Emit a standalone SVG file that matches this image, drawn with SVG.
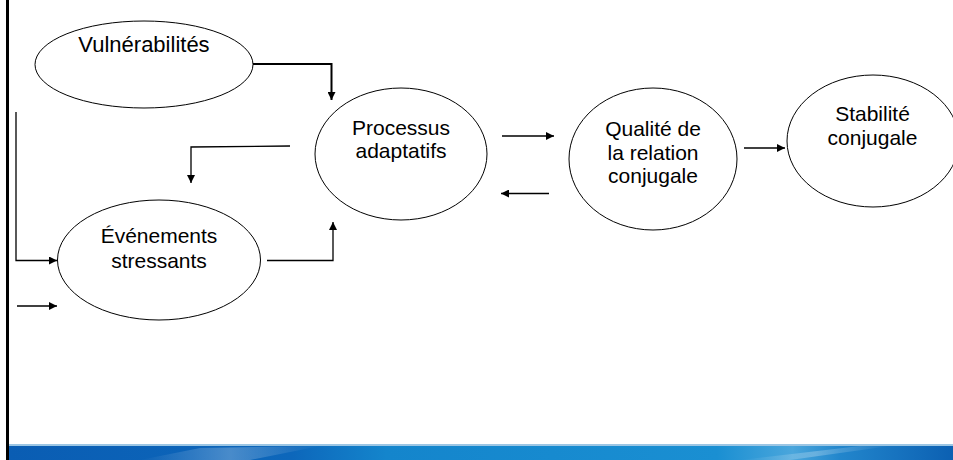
<svg xmlns="http://www.w3.org/2000/svg" width="953" height="460" viewBox="0 0 953 460">
<defs>
<marker id="ah" markerUnits="userSpaceOnUse" markerWidth="9" markerHeight="8" refX="8" refY="4" orient="auto">
<path d="M0,0 L8,4 L0,8 Z" fill="#000"/>
</marker>
<linearGradient id="band" x1="0" y1="0" x2="1" y2="0">
<stop offset="0" stop-color="#0a5db3"/>
<stop offset="0.3" stop-color="#0d67bb"/>
<stop offset="0.4" stop-color="#1485cc"/>
<stop offset="0.75" stop-color="#1a8fd2"/>
<stop offset="0.83" stop-color="#4aa6dc"/>
<stop offset="0.88" stop-color="#2286cc"/>
<stop offset="1" stop-color="#0c60b2"/>
</linearGradient>
<linearGradient id="streak" x1="0" y1="0" x2="1" y2="0">
<stop offset="0" stop-color="#ffffff" stop-opacity="0"/>
<stop offset="0.5" stop-color="#ffffff" stop-opacity="0.25"/>
<stop offset="1" stop-color="#ffffff" stop-opacity="0"/>
</linearGradient>
</defs>
<style>
.node ellipse{fill:#fff;stroke:#000;stroke-width:1}
.node text{font-family:"Liberation Sans",Arial,sans-serif;font-size:21px;fill:#000;text-anchor:middle}
.conn{fill:none;stroke:#000;stroke-width:1.3}
.thick{stroke-width:2}
</style>
<rect x="0" y="0" width="953" height="460" fill="#fff"/>
<rect x="6" y="0" width="3" height="460" fill="#000"/>
<g id="footer">
<rect x="9" y="444" width="944" height="2" fill="#9cc6e4"/>
<rect x="9" y="446" width="944" height="14" fill="url(#band)"/>
<path d="M140,460 L200,448 L320,446 L250,460 Z" fill="url(#streak)"/>
<path d="M740,460 L860,446 L890,446 L790,460 Z" fill="url(#streak)"/>
</g>
<g id="connectors">
<path class="conn thick" d="M253,64 H331.5 V100" marker-end="url(#ah)"/>
<path class="conn" d="M16,112 V260.5 H57" marker-end="url(#ah)"/>
<path class="conn" d="M17,306 H57" marker-end="url(#ah)"/>
<path class="conn" d="M290,146 L191,147 V183" marker-end="url(#ah)"/>
<path class="conn" d="M267,260.5 H333 V222" marker-end="url(#ah)"/>
<path class="conn" d="M502,136 H554" marker-end="url(#ah)"/>
<path class="conn" d="M549,193.5 H501" marker-end="url(#ah)"/>
<path class="conn" d="M744,148 H785" marker-end="url(#ah)"/>
</g>
<g id="vulnerabilites" class="node">
<ellipse cx="144" cy="64.5" rx="109" ry="43.5"/>
<text x="144" y="52" style="font-size:22px">Vulnérabilités</text>
</g>
<g id="processus" class="node">
<ellipse cx="401" cy="154" rx="86" ry="66"/>
<text x="401" y="135">Processus</text>
<text x="401" y="158">adaptatifs</text>
</g>
<g id="evenements" class="node">
<ellipse cx="159" cy="260" rx="101.5" ry="60"/>
<text x="159" y="243">Événements</text>
<text x="159" y="268">stressants</text>
</g>
<g id="qualite" class="node">
<ellipse cx="653" cy="159" rx="84" ry="71"/>
<text x="653" y="136">Qualité de</text>
<text x="653" y="160">la relation</text>
<text x="653" y="183">conjugale</text>
</g>
<g id="stabilite" class="node">
<ellipse cx="873" cy="141" rx="86" ry="66"/>
<text x="872.5" y="121">Stabilité</text>
<text x="872.5" y="145">conjugale</text>
</g>
</svg>
